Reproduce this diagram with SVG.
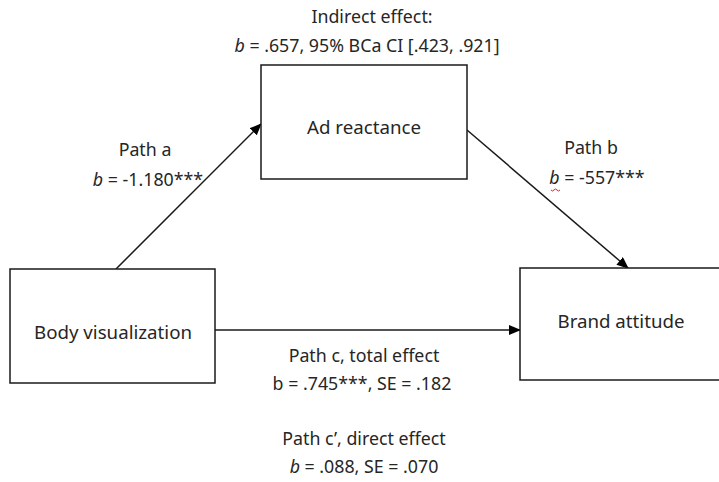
<svg xmlns="http://www.w3.org/2000/svg" width="719" height="482" viewBox="0 0 719 482">
<style>
text{font-family:"Noto Sans","Open Sans","Liberation Sans",sans-serif;font-size:17.8px;fill:#262626;text-anchor:middle}
.box{fill:#fff;stroke:#1a1a1a;stroke-width:1.5}
.lbl{font-size:18.7px}
.edge{stroke:#1a1a1a;stroke-width:1.5;fill:none}
.i{font-style:italic}
</style>
<defs>
<marker id="ah" markerWidth="12" markerHeight="10" refX="11" refY="5" orient="auto" markerUnits="userSpaceOnUse">
<path d="M0,0 L12,5 L0,10 Z" fill="#000"/>
</marker>
</defs>
<rect width="719" height="482" fill="#fff"/>
<g id="connectors">
<line class="edge" x1="116" y1="269" x2="261" y2="124" marker-end="url(#ah)"/>
<line class="edge" x1="467" y1="130" x2="628" y2="268" marker-end="url(#ah)"/>
<line class="edge" x1="215" y1="330" x2="520" y2="330" marker-end="url(#ah)"/>
</g>
<g id="node-ad">
<rect class="box" x="261" y="65" width="206" height="114"/>
<text class="lbl" x="364" y="134">Ad reactance</text>
</g>
<g id="node-body">
<rect class="box" x="10" y="269" width="205" height="114"/>
<text class="lbl" x="113" y="339">Body visualization</text>
</g>
<g id="node-brand">
<rect class="box" x="520" y="268" width="210" height="112"/>
<text class="lbl" x="621" y="328">Brand attitude</text>
</g>
<g id="labels">
<text x="372" y="23">Indirect effect:</text>
<text x="367" y="52"><tspan class="i">b</tspan> = .657, 95% BCa CI [.423, .921]</text>
<text x="145" y="156">Path a</text>
<text x="148" y="186"><tspan class="i">b</tspan> = -1.180***</text>
<text x="591" y="154">Path b</text>
<text x="597" y="184"><tspan class="i">b</tspan> = -557***</text>
<path d="M551,190 q1.5,2 3,0 t3,0 t3,0" fill="none" stroke="#e02020" stroke-width="1"/>
<text x="364" y="362">Path c, total effect</text>
<text x="362" y="390">b = .745***, SE = .182</text>
<text x="364" y="445">Path c’, direct effect</text>
<text x="364" y="473"><tspan class="i">b</tspan> = .088, SE = .070</text>
</g>
</svg>
